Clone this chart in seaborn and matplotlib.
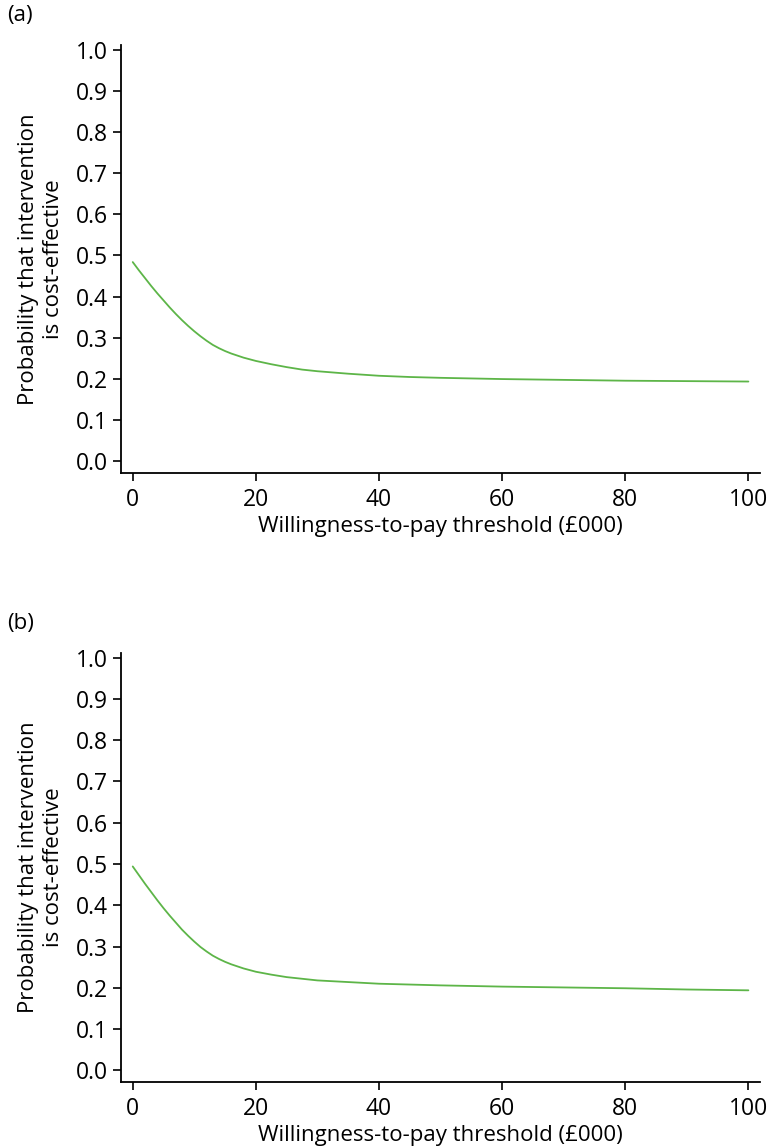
import matplotlib
matplotlib.use("Agg")
import matplotlib.pyplot as plt
import seaborn as sns
import pandas as pd

# willingness-to-pay threshold (£000)
wtp = [0, 1, 2, 3, 4, 5, 6, 7, 8, 9, 10, 11, 12, 13, 14, 15, 16, 17, 18, 19, 20,
       22.5, 25, 27.5, 30, 35, 40, 45, 50, 60, 70, 80, 90, 100]
# probability that intervention is cost-effective, panel (a)
prob_a = [0.484, 0.464, 0.445, 0.426, 0.408, 0.391, 0.374, 0.358, 0.343, 0.329, 0.316,
          0.304, 0.293, 0.283, 0.275, 0.268, 0.262, 0.257, 0.252, 0.248, 0.244,
          0.236, 0.229, 0.223, 0.219, 0.213, 0.208, 0.205, 0.203, 0.200, 0.198,
          0.196, 0.195, 0.194]
# panel (b)
prob_b = [0.494, 0.473, 0.452, 0.432, 0.412, 0.393, 0.375, 0.358, 0.341, 0.326, 0.312,
          0.299, 0.288, 0.278, 0.270, 0.263, 0.257, 0.252, 0.247, 0.243, 0.239,
          0.232, 0.226, 0.222, 0.218, 0.214, 0.210, 0.208, 0.206, 0.203, 0.201,
          0.199, 0.196, 0.194]

panels = ["(a)", "(b)"]
yticks = [round(0.1 * i, 1) for i in range(11)]
xticks = [0, 20, 40, 60, 80, 100]

sns.set_style("ticks")
plt.rcParams["font.family"] = ["Open Sans", "DejaVu Sans"]
plt.rcParams["text.color"] = "black"
plt.rcParams["axes.labelcolor"] = "black"

fig = plt.figure(figsize=(7.69, 11.48), dpi=100)
green = "#5db548"
fs = 16

# axes boxes in figure fractions: [left, bottom, width, height]
boxes = [[0.157, 0.588, 0.831, 0.3728], [0.157, 0.0575, 0.831, 0.3737]]

for box, label, probs in zip(boxes, panels, [prob_a, prob_b]):
    ax = fig.add_axes(box)
    df = pd.DataFrame({"wtp": wtp, "prob": probs})
    sns.lineplot(data=df, x="wtp", y="prob", ax=ax, color=green, linewidth=1.3)
    ax.set_xlim(-1.95, 101.85)
    ax.set_ylim(-0.028, 1.011)
    ax.set_xticks(xticks)
    ax.set_yticks(yticks)
    ax.set_yticklabels([f"{v:.1f}" for v in yticks])
    ax.tick_params(labelsize=16.5, length=6, width=1.2, colors="black", pad=3)
    ax.tick_params(axis="x", pad=5)
    for s in ["left", "bottom"]:
        ax.spines[s].set_linewidth(1.3)
        ax.spines[s].set_color("black")
    sns.despine(ax=ax)
    ax.set_xlabel("Willingness-to-pay threshold (£000)", fontsize=fs, labelpad=3)
    ax.set_ylabel("Probability that intervention\nis cost-effective", fontsize=fs,
                  labelpad=9, linespacing=1.2)
    top = box[1] + box[3]
    fig.text(0.009, top + 0.026, label, fontsize=fs, ha="left", va="center")

fig.savefig("out.png", dpi=100)
